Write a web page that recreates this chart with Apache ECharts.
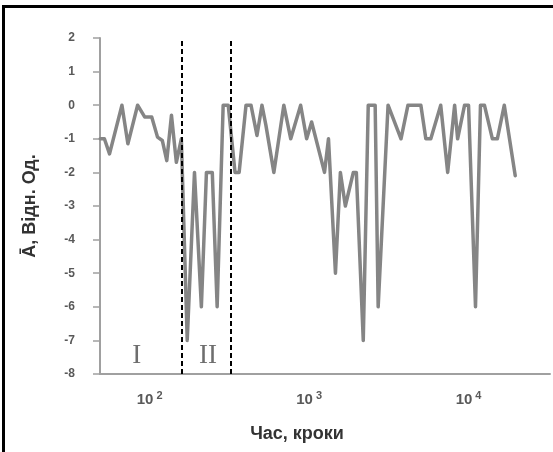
<!DOCTYPE html>
<html>
<head>
<meta charset="utf-8">
<script src="https://cdn.jsdelivr.net/npm/echarts@6/dist/echarts.min.js"></script>
<style>
html,body{margin:0;padding:0;background:#fff;}
#chart{width:553px;height:452px;}
</style>
</head>
<body>
<div id="chart"></div>
<script>
// Time (steps) for each point
const steps = [49, 52, 56, 67, 73, 84, 93, 103, 112, 120, 128, 137, 147, 158, 172, 191, 211, 227, 247, 265,
  289, 311, 343, 364, 402, 432, 471, 506, 536, 601, 694, 767, 885, 965, 1037, 1249, 1323, 1463, 1571, 1688,
  1894, 1978, 2186, 2349, 2596, 2711, 3128, 3770, 4169, 5023, 5396, 5798, 6691, 7399, 8180, 8542, 9443, 10000,
  11058, 11880, 12580, 14110, 15160, 16760, 19630];
// Relative amplitude
const amplitude = [-1.0, -1.0, -1.45, 0, -1.15, 0, -0.35, -0.35, -0.95, -1.05, -1.65, -0.3, -1.7, -1.0, -7, -2, -6, -2, -2, -6,
  0, 0, -2, -2, 0, 0, -0.9, 0, -0.6, -2, 0, -1, 0, -1, -0.5, -2, -1, -5, -2, -3,
  -2, -2, -7, 0, 0, -6, 0, -1, 0, 0, -1, -1, 0, -2, 0, -1, 0, 0,
  -6, 0, 0, -1, -1, 0, -2.1];
// Region boundaries (steps) and names
const regionBounds = [158, 324];
const regionNames = ['I', 'II'];
const regionLabelPos = [[83, -7.45], [232, -7.45]];
// Axis ranges
const yTicks = [-8, -7, -6, -5, -4, -3, -2, -1, 0, 1, 2];
const xRange = [48.8, 32430];

const chart = echarts.init(document.getElementById('chart'));
chart.setOption({
  animation: false,
  backgroundColor: '#fff',
  grid: { left: 100, right: 0, top: 38, bottom: 78 },
  xAxis: {
    type: 'log',
    logBase: 10,
    min: xRange[0],
    max: xRange[1],
    name: 'Час, кроки',
    nameLocation: 'middle',
    nameGap: 51,
    nameTextStyle: { fontFamily: 'Liberation Sans', fontWeight: 'bold', fontSize: 18, color: '#333', padding: [0, 56, 0, 0] },
    axisLine: { onZero: false, lineStyle: { color: '#a0a0a0', width: 2 } },
    axisTick: { show: false },
    splitLine: { show: false },
    axisLabel: {
      margin: 16,
      formatter: function (v) {
        const l = Math.log10(v);
        const e = Math.round(l);
        if (Math.abs(l - e) > 1e-6) return '';
        return '{b|10}{s|' + e + '}';
      },
      rich: {
        b: { fontFamily: 'Liberation Sans', fontWeight: 'bold', fontSize: 15, color: '#595959' },
        s: { fontFamily: 'Liberation Sans', fontWeight: 'bold', fontSize: 11, color: '#595959', padding: [0, 0, 9, 3] }
      }
    }
  },
  yAxis: {
    type: 'value',
    min: yTicks[0],
    max: yTicks[yTicks.length - 1],
    interval: 1,
    name: 'Ā, Відн. Од.',
    nameLocation: 'middle',
    nameGap: 61,
    nameTextStyle: { fontFamily: 'Liberation Sans', fontWeight: 'bold', fontSize: 18, color: '#333' },
    axisLine: { show: true, lineStyle: { color: '#a0a0a0', width: 2 } },
    axisTick: { show: true, length: 7, lineStyle: { color: '#a0a0a0', width: 1.5 } },
    splitLine: { show: false },
    axisLabel: { margin: 25, fontFamily: 'Liberation Sans', fontWeight: 'bold', fontSize: 12, color: '#595959' }
  },
  series: [{
    type: 'line',
    data: steps.map((s, i) => [s, amplitude[i]]),
    showSymbol: false,
    symbol: 'none',
    lineStyle: { color: '#858585', width: 3.5, join: 'round', cap: 'round' },
    markLine: {
      silent: true,
      symbol: 'none',
      label: { show: false },
      lineStyle: { color: '#000', width: 2, type: [5, 3] },
      data: regionBounds.map(b => ({ xAxis: b }))
    },
    markPoint: {
      silent: true,
      symbol: 'rect',
      symbolSize: 1,
      itemStyle: { color: 'rgba(0,0,0,0)' },
      label: { show: true, position: 'inside', fontFamily: 'Liberation Serif', fontSize: 27, color: '#6e6e6e', formatter: p => p.name },
      data: regionNames.map((n, i) => ({ name: n, coord: regionLabelPos[i] }))
    }
  }],
  graphic: [{
    type: 'rect',
    silent: true,
    shape: { x: 3.5, y: 6.5, width: 700, height: 600 },
    style: { fill: 'none', stroke: '#000', lineWidth: 3 }
  }]
});
</script>
</body>
</html>
